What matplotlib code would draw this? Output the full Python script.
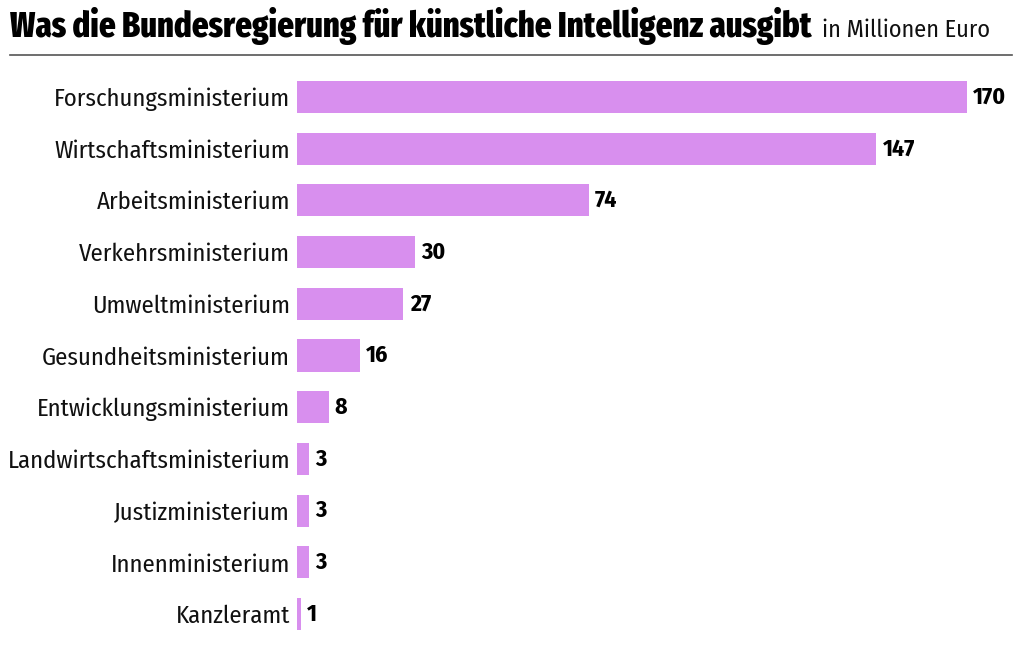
import matplotlib.pyplot as plt
from matplotlib import font_manager

# data
ministries = ['Forschungsministerium', 'Wirtschaftsministerium', 'Arbeitsministerium',
              'Verkehrsministerium', 'Umweltministerium', 'Gesundheitsministerium',
              'Entwicklungsministerium', 'Landwirtschaftsministerium', 'Justizministerium',
              'Innenministerium', 'Kanzleramt']
spending = [170, 147, 74, 30, 27, 16, 8, 3, 3, 3, 1]

title = 'Was die Bundesregierung für künstliche Intelligenz ausgibt'
subtitle = 'in Millionen Euro'

bar_color = '#D88FEE'


def pick(candidates):
    names = {f.name for f in font_manager.fontManager.ttflist}
    for c in candidates:
        if c in names:
            return c
    return 'DejaVu Sans'


title_font = pick(['Fira Sans Extra Condensed', 'Fira Sans Condensed', 'Roboto Condensed',
                   'IBM Plex Sans Condensed', 'Open Sans Condensed'])
body_font = pick(['Fira Sans Condensed', 'Fira Sans Extra Condensed', 'Roboto Condensed',
                  'IBM Plex Sans Condensed', 'Open Sans Condensed'])
plt.rcParams['font.family'] = [body_font, 'DejaVu Sans']

fig = plt.figure(figsize=(10.24, 6.5), dpi=100)
ax = fig.add_axes([297 / 1024, 1 - 640 / 650, 713 / 1024, 569 / 650])

y = list(range(len(ministries)))
ax.barh(y, spending, height=0.62, color=bar_color)
ax.set_ylim(len(ministries) - 0.5, -0.5)
ax.set_xlim(0, 713 / (670 / 170))

value_texts = []
for yi, v in zip(y, spending):
    t = ax.annotate(str(v), (v, yi), xytext=(4.5, 0), textcoords='offset points',
                    va='center', ha='left', fontsize=14, fontweight='bold', color='black')
    value_texts.append(t)

ax.set_yticks(y)
ax.set_yticklabels(ministries, fontsize=14, color='#111111', fontweight='normal')
ax.tick_params(axis='y', length=0, pad=5)
ax.set_xticks([])
for s in ax.spines.values():
    s.set_visible(False)

t_title = fig.text(10 / 1024, 1 - 37 / 650, title, fontsize=21, fontweight='heavy',
                   va='baseline', ha='left', family=[title_font, 'DejaVu Sans'])
t_sub = fig.text(822 / 1024, 1 - 37 / 650, subtitle, fontsize=14, va='baseline', ha='left',
                 color='#111111', fontweight='normal')
fig.add_artist(plt.Line2D([10 / 1024, 1012 / 1024], [1 - 55 / 650, 1 - 55 / 650],
                          color='#555555', linewidth=1.2))

# size the texts to the widths seen in the reference
renderer = fig.canvas.get_renderer()


def fit(texts, target):
    w = texts[0].get_window_extent(renderer).width
    size = texts[0].get_fontsize() * target / w
    for t in texts:
        t.set_fontsize(size)


fit([t_title], 802)
fit([t_sub], 168)
fit(ax.get_yticklabels(), 237)
fit(value_texts, 33)

fig.savefig('out.png', dpi=100)
